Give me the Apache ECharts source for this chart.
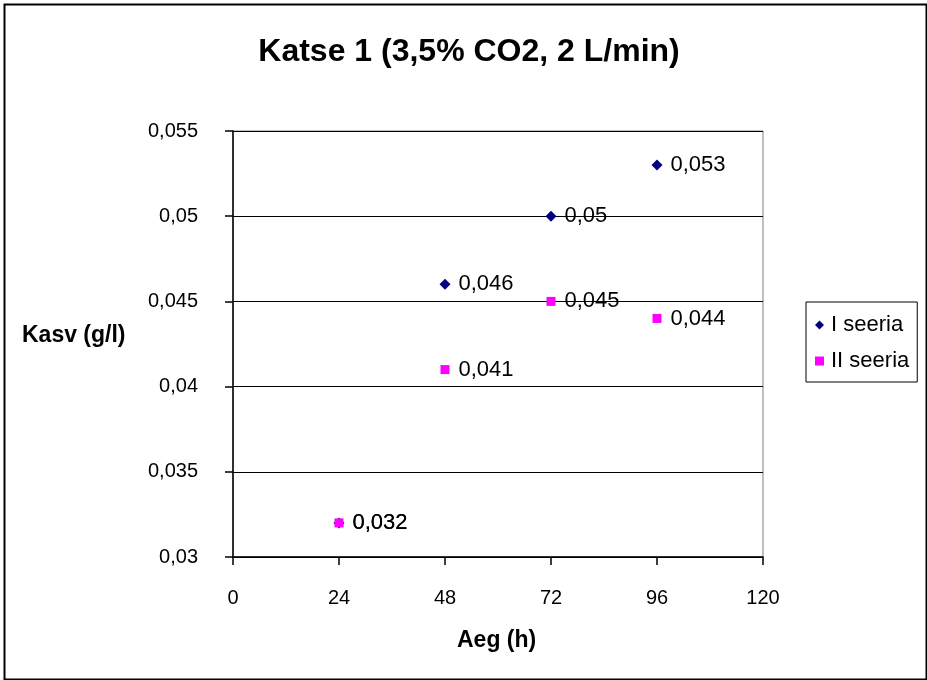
<!DOCTYPE html>
<html>
<head>
<meta charset="utf-8">
<script src="https://cdn.jsdelivr.net/npm/echarts@6/dist/echarts.min.js"></script>
<style>html,body{margin:0;padding:0;background:#fff}#c{width:927px;height:680px}</style>
</head>
<body>
<div id="c"></div>
<script>
const hours = [24, 48, 72, 96];
const seriesNames = ['I seeria', 'II seeria'];
const seriesI = [0.032, 0.046, 0.05, 0.053];
const seriesII = [0.032, 0.041, 0.045, 0.044];
const xTicks = [0, 24, 48, 72, 96, 120];
const yTicks = [0.03, 0.035, 0.04, 0.045, 0.05, 0.055];

const fmt = v => String(+(+v).toFixed(3)).replace('.', ',');
const font = '"Liberation Sans", Arial, sans-serif';

const chart = echarts.init(document.getElementById('c'), null, {renderer: 'canvas'});
chart.setOption({
  animation: false,
  backgroundColor: '#fff',
  textStyle: {fontFamily: font},
  title: {
    text: 'Katse 1 (3,5% CO2, 2 L/min)',
    left: 464, top: 31, textAlign: 'center',
    textStyle: {fontFamily: font, fontWeight: 'bold', fontSize: 32, color: '#000'}
  },
  grid: {left: 233, top: 131, width: 530, height: 426, show: true, borderColor: '#808080', borderWidth: 1, containLabel: false},
  legend: {
    orient: 'vertical', left: 806, top: 302,
    padding: [12, 8, 10, 9], itemGap: 14,
    borderColor: '#000', borderWidth: 1,
    itemWidth: 9, itemHeight: 9,
    textStyle: {fontFamily: font, fontSize: 22, color: '#000', padding: [0, 0, 0, 2]},
    data: [{name: seriesNames[0], icon: 'diamond'}, {name: seriesNames[1], icon: 'rect'}]
  },
  xAxis: {
    type: 'value', min: xTicks[0], max: xTicks[xTicks.length - 1], interval: 24,
    axisLine: {show: true, onZero: false, lineStyle: {color: '#000', width: 1.5}},
    axisTick: {show: true, inside: false, length: 8, lineStyle: {color: '#000', width: 1.5}},
    axisLabel: {margin: 31, fontSize: 20, color: '#000', fontFamily: font},
    splitLine: {show: false}
  },
  yAxis: {
    type: 'value', min: yTicks[0], max: yTicks[yTicks.length - 1], interval: 0.005,
    axisLine: {show: true, onZero: false, lineStyle: {color: '#000', width: 1.5}},
    axisTick: {show: true, inside: false, length: 8, lineStyle: {color: '#000', width: 1.5}},
    axisLabel: {margin: 35, fontSize: 20, color: '#000', fontFamily: font, formatter: fmt},
    splitLine: {show: true, lineStyle: {color: '#000', width: 1.2}}
  },
  graphic: [
    {type: 'rect', left: 2, top: 2, shape: {x: 0, y: 0, width: 922, height: 675}, style: {fill: 'none', stroke: '#000', lineWidth: 2}, z: 100, silent: true},
    {type: 'text', left: 22, top: 324, style: {text: 'Kasv (g/l)', font: 'bold 23px ' + font, fill: '#000'}},
    {type: 'text', left: 457, top: 629, style: {text: 'Aeg (h)', font: 'bold 23px ' + font, fill: '#000'}}
  ],
  series: [
    {
      name: seriesNames[0], type: 'scatter', symbol: 'diamond', symbolSize: 11,
      itemStyle: {color: '#000080', opacity: 1},
      data: hours.map((h, i) => [h, seriesI[i]]),
      label: {show: true, position: 'right', distance: 8, fontSize: 22, color: '#000', opacity: 1, fontFamily: font,
        formatter: p => fmt(p.value[1])},
      z: 3
    },
    {
      name: seriesNames[1], type: 'scatter', symbol: 'rect', symbolSize: 9,
      itemStyle: {color: '#FF00FF', opacity: 1},
      data: hours.map((h, i) => [h, seriesII[i]]),
      label: {show: true, position: 'right', distance: 9, fontSize: 22, color: '#000', opacity: 1, fontFamily: font,
        formatter: p => fmt(p.value[1])},
      labelLayout: {hideOverlap: false},
      z: 4
    }
  ]
});
</script>
</body>
</html>
